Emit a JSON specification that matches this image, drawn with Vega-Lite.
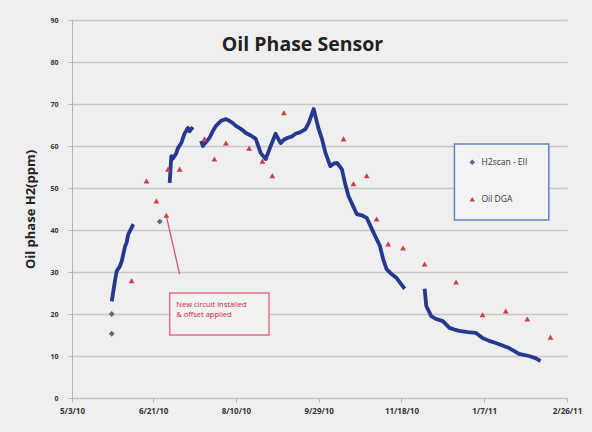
{
  "$schema": "https://vega.github.io/schema/vega-lite/v6.json",
  "width": 495,
  "height": 378,
  "autosize": {"type": "none"},
  "padding": {"left": 72, "top": 20, "right": 25, "bottom": 34},
  "background": "#efefef",
  "title": {"text": "Oil Phase Sensor", "anchor": "middle", "dx": -17, "dy": 43, "fontSize": 19.5, "fontWeight": "bold", "font": "Open Sans", "color": "#222222"},
  "config": {
    "view": {"stroke": null},
    "font": "Open Sans",
    "axis": {"labelFont": "Open Sans", "titleFont": "Open Sans"}
  },
  "datasets": {
    "h2line": [
      {"date": "2010-05-27", "ppm": 23, "seg": 1},
      {"date": "2010-05-28", "ppm": 25.5, "seg": 1},
      {"date": "2010-05-29", "ppm": 28, "seg": 1},
      {"date": "2010-05-30", "ppm": 30.2, "seg": 1},
      {"date": "2010-06-01", "ppm": 31.4, "seg": 1},
      {"date": "2010-06-02", "ppm": 32.5, "seg": 1},
      {"date": "2010-06-04", "ppm": 36, "seg": 1},
      {"date": "2010-06-05", "ppm": 37, "seg": 1},
      {"date": "2010-06-06", "ppm": 39, "seg": 1},
      {"date": "2010-06-08", "ppm": 40.5, "seg": 1},
      {"date": "2010-06-09", "ppm": 41.4, "seg": 1},
      {"date": "2010-07-01", "ppm": 51.2, "seg": 2},
      {"date": "2010-07-02", "ppm": 57.6, "seg": 2},
      {"date": "2010-07-03", "ppm": 57, "seg": 2},
      {"date": "2010-07-05", "ppm": 58.3, "seg": 2},
      {"date": "2010-07-06", "ppm": 59.5, "seg": 2},
      {"date": "2010-07-08", "ppm": 60.7, "seg": 2},
      {"date": "2010-07-10", "ppm": 63, "seg": 2},
      {"date": "2010-07-12", "ppm": 64.3, "seg": 2},
      {"date": "2010-07-13", "ppm": 63.5, "seg": 2},
      {"date": "2010-07-15", "ppm": 64.5, "seg": 2},
      {"date": "2010-07-20", "ppm": 61.2, "seg": 3},
      {"date": "2010-07-21", "ppm": 60, "seg": 3},
      {"date": "2010-07-22", "ppm": 60.5, "seg": 3},
      {"date": "2010-07-25", "ppm": 61.9, "seg": 3},
      {"date": "2010-07-27", "ppm": 63.5, "seg": 3},
      {"date": "2010-07-29", "ppm": 64.8, "seg": 3},
      {"date": "2010-08-01", "ppm": 66, "seg": 3},
      {"date": "2010-08-04", "ppm": 66.4, "seg": 3},
      {"date": "2010-08-06", "ppm": 66, "seg": 3},
      {"date": "2010-08-08", "ppm": 65.5, "seg": 3},
      {"date": "2010-08-10", "ppm": 64.8, "seg": 3},
      {"date": "2010-08-12", "ppm": 64.3, "seg": 3},
      {"date": "2010-08-14", "ppm": 63.8, "seg": 3},
      {"date": "2010-08-16", "ppm": 63.1, "seg": 3},
      {"date": "2010-08-19", "ppm": 62.5, "seg": 3},
      {"date": "2010-08-22", "ppm": 61.7, "seg": 3},
      {"date": "2010-08-25", "ppm": 58.3, "seg": 3},
      {"date": "2010-08-28", "ppm": 56.9, "seg": 3},
      {"date": "2010-08-31", "ppm": 60, "seg": 3},
      {"date": "2010-09-03", "ppm": 62.9, "seg": 3},
      {"date": "2010-09-06", "ppm": 60.7, "seg": 3},
      {"date": "2010-09-08", "ppm": 61.5, "seg": 3},
      {"date": "2010-09-10", "ppm": 61.9, "seg": 3},
      {"date": "2010-09-13", "ppm": 62.3, "seg": 3},
      {"date": "2010-09-15", "ppm": 62.9, "seg": 3},
      {"date": "2010-09-18", "ppm": 63.3, "seg": 3},
      {"date": "2010-09-21", "ppm": 64, "seg": 3},
      {"date": "2010-09-23", "ppm": 65.5, "seg": 3},
      {"date": "2010-09-26", "ppm": 68.8, "seg": 3},
      {"date": "2010-09-29", "ppm": 64, "seg": 3},
      {"date": "2010-10-01", "ppm": 61.7, "seg": 3},
      {"date": "2010-10-03", "ppm": 58.5, "seg": 3},
      {"date": "2010-10-06", "ppm": 55.2, "seg": 3},
      {"date": "2010-10-08", "ppm": 55.8, "seg": 3},
      {"date": "2010-10-10", "ppm": 56, "seg": 3},
      {"date": "2010-10-13", "ppm": 54.5, "seg": 3},
      {"date": "2010-10-15", "ppm": 51, "seg": 3},
      {"date": "2010-10-17", "ppm": 48.1, "seg": 3},
      {"date": "2010-10-20", "ppm": 45.5, "seg": 3},
      {"date": "2010-10-22", "ppm": 43.8, "seg": 3},
      {"date": "2010-10-25", "ppm": 43.5, "seg": 3},
      {"date": "2010-10-28", "ppm": 42.9, "seg": 3},
      {"date": "2010-11-01", "ppm": 39.5, "seg": 3},
      {"date": "2010-11-05", "ppm": 36.2, "seg": 3},
      {"date": "2010-11-07", "ppm": 33, "seg": 3},
      {"date": "2010-11-09", "ppm": 30.7, "seg": 3},
      {"date": "2010-11-12", "ppm": 29.5, "seg": 3},
      {"date": "2010-11-15", "ppm": 28.6, "seg": 3},
      {"date": "2010-11-18", "ppm": 27, "seg": 3},
      {"date": "2010-11-20", "ppm": 26, "seg": 3},
      {"date": "2010-12-02", "ppm": 26, "seg": 4},
      {"date": "2010-12-03", "ppm": 21.9, "seg": 4},
      {"date": "2010-12-06", "ppm": 19.5, "seg": 4},
      {"date": "2010-12-09", "ppm": 18.8, "seg": 4},
      {"date": "2010-12-13", "ppm": 18.3, "seg": 4},
      {"date": "2010-12-17", "ppm": 16.7, "seg": 4},
      {"date": "2010-12-20", "ppm": 16.3, "seg": 4},
      {"date": "2010-12-23", "ppm": 16, "seg": 4},
      {"date": "2010-12-28", "ppm": 15.7, "seg": 4},
      {"date": "2011-01-02", "ppm": 15.5, "seg": 4},
      {"date": "2011-01-06", "ppm": 14.3, "seg": 4},
      {"date": "2011-01-10", "ppm": 13.6, "seg": 4},
      {"date": "2011-01-14", "ppm": 13.1, "seg": 4},
      {"date": "2011-01-18", "ppm": 12.5, "seg": 4},
      {"date": "2011-01-22", "ppm": 11.9, "seg": 4},
      {"date": "2011-01-25", "ppm": 11.2, "seg": 4},
      {"date": "2011-01-28", "ppm": 10.5, "seg": 4},
      {"date": "2011-02-03", "ppm": 10, "seg": 4},
      {"date": "2011-02-07", "ppm": 9.5, "seg": 4},
      {"date": "2011-02-10", "ppm": 8.8, "seg": 4}
    ],
    "points": [
      {"date": "2010-05-27", "ppm": 20, "series": "H2scan - EII"},
      {"date": "2010-05-27", "ppm": 15.3, "series": "H2scan - EII"},
      {"date": "2010-06-25", "ppm": 42, "series": "H2scan - EII"},
      {"date": "2010-06-08", "ppm": 27.9, "series": "Oil DGA"},
      {"date": "2010-06-17", "ppm": 51.7, "series": "Oil DGA"},
      {"date": "2010-06-23", "ppm": 46.9, "series": "Oil DGA"},
      {"date": "2010-06-29", "ppm": 43.5, "series": "Oil DGA"},
      {"date": "2010-06-30", "ppm": 54.5, "series": "Oil DGA"},
      {"date": "2010-07-07", "ppm": 54.5, "series": "Oil DGA"},
      {"date": "2010-07-22", "ppm": 61.7, "series": "Oil DGA"},
      {"date": "2010-07-28", "ppm": 56.9, "series": "Oil DGA"},
      {"date": "2010-08-04", "ppm": 60.7, "series": "Oil DGA"},
      {"date": "2010-08-18", "ppm": 59.5, "series": "Oil DGA"},
      {"date": "2010-08-26", "ppm": 56.4, "series": "Oil DGA"},
      {"date": "2010-09-01", "ppm": 52.9, "series": "Oil DGA"},
      {"date": "2010-09-08", "ppm": 67.9, "series": "Oil DGA"},
      {"date": "2010-10-14", "ppm": 61.7, "series": "Oil DGA"},
      {"date": "2010-10-20", "ppm": 51, "series": "Oil DGA"},
      {"date": "2010-10-28", "ppm": 52.9, "series": "Oil DGA"},
      {"date": "2010-11-03", "ppm": 42.6, "series": "Oil DGA"},
      {"date": "2010-11-10", "ppm": 36.7, "series": "Oil DGA"},
      {"date": "2010-11-19", "ppm": 35.7, "series": "Oil DGA"},
      {"date": "2010-12-02", "ppm": 31.9, "series": "Oil DGA"},
      {"date": "2010-12-21", "ppm": 27.6, "series": "Oil DGA"},
      {"date": "2011-01-06", "ppm": 19.8, "series": "Oil DGA"},
      {"date": "2011-01-20", "ppm": 20.7, "series": "Oil DGA"},
      {"date": "2011-02-02", "ppm": 18.8, "series": "Oil DGA"},
      {"date": "2011-02-16", "ppm": 14.5, "series": "Oil DGA"}
    ],
    "notebox": [
      {"start": "2010-07-01", "end": "2010-08-30", "low": 15, "high": 25}
    ],
    "legendbox": [
      {"start": "2010-12-20", "end": "2011-02-15", "low": 42.4, "high": 60.5}
    ],
    "notetext": [
      {"date": "2010-07-05", "ppm": 22.2, "label": "New circuit installed"},
      {"date": "2010-07-05", "ppm": 19.8, "label": "& offset applied"}
    ],
    "callout": [
      {"start": "2010-06-29", "end": "2010-07-07", "from": 43.3, "to": 29.5}
    ]
  },
  "layer": [
    {
      "data": {"name": "h2line"},
      "mark": {"type": "line", "color": "#27398f", "strokeWidth": 3.8, "strokeJoin": "round"},
      "encoding": {
        "x": {
          "field": "date", "type": "temporal",
          "scale": {"domain": [{"year": 2010, "month": 5, "date": 3}, {"year": 2011, "month": 2, "date": 26}]},
          "axis": {
            "title": null,
            "values": [
              {"year": 2010, "month": 5, "date": 3},
              {"year": 2010, "month": 6, "date": 21},
              {"year": 2010, "month": 8, "date": 10},
              {"year": 2010, "month": 9, "date": 29},
              {"year": 2010, "month": 11, "date": 18},
              {"year": 2011, "month": 1, "date": 7},
              {"year": 2011, "month": 2, "date": 26}
            ],
            "format": "%-m/%-d/%y",
            "labelFontSize": 8,
            "labelFontWeight": "bold",
            "labelColor": "#333333",
            "labelPadding": 5,
            "labelFlush": false,
            "grid": false,
            "domainColor": "#b5b5b5",
            "domainDash": [2, 2],
            "tickColor": "#b5b5b5",
            "tickSize": 4
          }
        },
        "y": {
          "field": "ppm", "type": "quantitative",
          "scale": {"domain": [0, 90]},
          "axis": {
            "title": "Oil phase H2(ppm)",
            "titleFontSize": 13,
            "titleFontWeight": "bold",
            "titleColor": "#222222",
            "titlePadding": 12,
            "values": [0, 10, 20, 30, 40, 50, 60, 70, 80, 90],
            "labelFontSize": 7,
            "labelFontWeight": "bold",
            "labelColor": "#333333",
            "labelPadding": 10,
            "grid": true,
            "gridColor": "#c8c8c8",
            "gridWidth": 1.5,
            "domainColor": "#b5b5b5",
            "tickColor": "#b5b5b5",
            "tickSize": 4
          }
        },
        "detail": {"field": "seg", "type": "nominal"}
      }
    },
    {
      "data": {"name": "legendbox"},
      "mark": {"type": "rect", "fill": "#f3f3f3", "stroke": "#5f86c8", "strokeWidth": 1.5},
      "encoding": {
        "x": {"field": "start", "type": "temporal"},
        "x2": {"field": "end"},
        "y": {"field": "low", "type": "quantitative"},
        "y2": {"field": "high"}
      }
    },
    {
      "data": {"name": "callout"},
      "mark": {"type": "rule", "color": "#d9566a", "strokeWidth": 1.3},
      "encoding": {
        "x": {"field": "start", "type": "temporal"},
        "x2": {"field": "end"},
        "y": {"field": "from", "type": "quantitative"},
        "y2": {"field": "to"}
      }
    },
    {
      "data": {"name": "notebox"},
      "mark": {"type": "rect", "fill": "#f3f1f2", "stroke": "#e07384", "strokeWidth": 1.5},
      "encoding": {
        "x": {"field": "start", "type": "temporal"},
        "x2": {"field": "end"},
        "y": {"field": "low", "type": "quantitative"},
        "y2": {"field": "high"}
      }
    },
    {
      "data": {"name": "notetext"},
      "mark": {"type": "text", "align": "left", "baseline": "middle", "fontSize": 7.5, "color": "#c8283c"},
      "encoding": {
        "x": {"field": "date", "type": "temporal"},
        "y": {"field": "ppm", "type": "quantitative"},
        "text": {"field": "label"}
      }
    },
    {
      "data": {"name": "points"},
      "mark": {"type": "point", "filled": true, "size": 34, "opacity": 1},
      "encoding": {
        "x": {"field": "date", "type": "temporal"},
        "y": {"field": "ppm", "type": "quantitative"},
        "color": {
          "field": "series", "type": "nominal",
          "scale": {"domain": ["H2scan - EII", "Oil DGA"], "range": ["#5a6a8a", "#c9404a"]},
          "legend": {
            "title": null,
            "orient": "none",
            "legendX": 383,
            "legendY": 125,
            "padding": 13,
            "rowPadding": 28,
            "labelFontSize": 8.5,
            "labelColor": "#333333",
            "symbolSize": 30,
            "labelOffset": 5
          }
        },
        "shape": {
          "field": "series", "type": "nominal",
          "scale": {"domain": ["H2scan - EII", "Oil DGA"], "range": ["diamond", "triangle-up"]}
        }
      }
    }
  ]
}
